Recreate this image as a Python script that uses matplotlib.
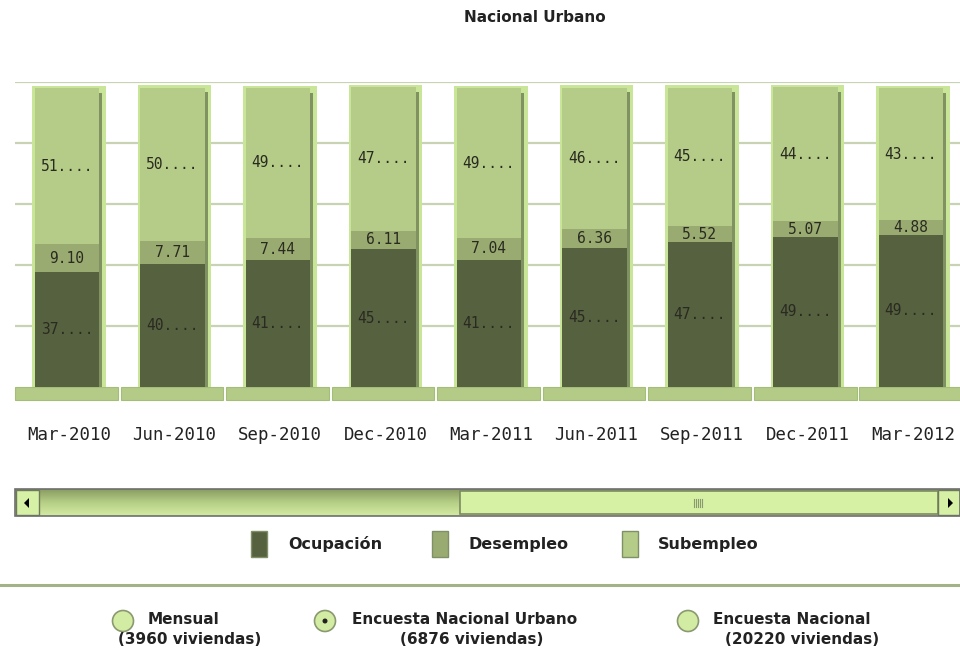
import numpy as np
import matplotlib.pyplot as plt
from matplotlib.patches import Rectangle, Circle, Polygon
from matplotlib.colors import LinearSegmentedColormap

# data
periodos = ['Mar-2010', 'Jun-2010', 'Sep-2010', 'Dec-2010', 'Mar-2011',
            'Jun-2011', 'Sep-2011', 'Dec-2011', 'Mar-2012']
ocupacion = [37.7, 40.3, 41.5, 45.2, 41.8, 45.5, 47.4, 49.2, 49.9]
desempleo = [9.10, 7.71, 7.44, 6.11, 7.04, 6.36, 5.52, 5.07, 4.88]
subempleo = [51.1, 50.1, 49.1, 47.0, 49.2, 46.2, 45.2, 44.0, 43.2]

series = ['Ocupación', 'Desempleo', 'Subempleo']
colores = ['#566140', '#9aab72', '#b4cc88']
radios = ['Mensual', 'Encuesta Nacional Urbano', 'Encuesta Nacional']
radios_sub = ['(3960 viviendas)', '(6876 viviendas)', '(20220 viviendas)']

W, H = 960, 650
fig = plt.figure(figsize=(9.6, 6.5), dpi=100)

# overlay in pixel coords for the widget parts
ui = fig.add_axes([0, 0, 1, 1], zorder=0)
ui.set_xlim(0, W)
ui.set_ylim(H, 0)
ui.axis('off')

ax = fig.add_axes([15 / W, (H - 387) / H, (W - 15) / W, 305 / H], zorder=2)
ax.patch.set_alpha(0)
ax.set_xlim(-0.512, 8.445)
ax.set_ylim(0, 100)
for s in ax.spines.values():
    s.set_visible(False)
ax.set_yticks([])
for g in [20, 40, 60, 80, 100]:
    ax.axhline(g, color='#c8d3b6', lw=1.6, zorder=0)

x = np.arange(len(periodos))
ocu = np.array(ocupacion)
des = np.array(desempleo)
sub = np.array(subempleo)
tot = ocu + des + sub

# base plates
ax.bar(x - 0.024, -4.3, width=0.976, bottom=0, color='#b3cb86',
       edgecolor='#a5bd7a', lw=0.8, clip_on=False, zorder=1)
# outer glow / border of each column
ax.bar(x, tot + 0.8, width=0.70, color='#c8e598', zorder=2)
inner_w = 0.61
xi = x - 0.02
ax.bar(xi, ocu, width=inner_w, color=colores[0], zorder=3)
ax.bar(xi, des, width=inner_w, bottom=ocu, color=colores[1], zorder=3)
ax.bar(xi, sub, width=inner_w, bottom=ocu + des, color=colores[2], zorder=3)
# shadow strip on right side
ax.bar(xi + inner_w / 2 + 0.015, tot - 1.5, width=0.03, color='#6f7d55',
       alpha=0.8, zorder=3)

mono = 'DejaVu Sans Mono'
for i in range(len(x)):
    ax.text(xi[i], ocu[i] / 2, '%d....' % int(ocu[i]), ha='center', va='center',
            family=mono, fontsize=10.5, color='#2a2a20', zorder=4)
    ax.text(xi[i], ocu[i] + des[i] / 2, '%.2f' % des[i], ha='center', va='center',
            family=mono, fontsize=10.5, color='#2a2a20', zorder=4)
    ax.text(xi[i], ocu[i] + des[i] + sub[i] * 0.5, '%d....' % int(sub[i]),
            ha='center', va='center', family=mono, fontsize=10.5,
            color='#2a2a20', zorder=4)

ax.set_xticks(x)
ax.set_xticklabels(periodos, family=mono, fontsize=12.5, color='#222222')
ax.tick_params(axis='x', length=0, pad=28)

fig.text(535 / W, 1 - 18 / H, 'Nacional Urbano', ha='center', va='center',
         fontsize=11, fontweight='bold', color='#222222')

# scrollbar
grad = np.linspace(0, 1, 50).reshape(-1, 1)
ui.imshow(grad, cmap=LinearSegmentedColormap.from_list(
    'g', ['#8a9c62', '#b6cf86', '#d3eaa2']), extent=(15, 960, 516, 489),
    aspect='auto', zorder=1)
ui.add_patch(Rectangle((15, 489), 945, 27, fill=False, ec='#6e6e6e', lw=1.2, zorder=3))
ui.add_patch(Rectangle((16, 490), 23, 25, fc='#d6f0a6', ec='#6e7a5a', lw=1, zorder=2))
ui.add_patch(Rectangle((460, 491), 478, 23, fc='#d6f0a4', ec='#7b8a62', lw=1.2, zorder=2))
ui.add_patch(Rectangle((938, 490), 22, 25, fc='#d6f0a6', ec='#6e7a5a', lw=1, zorder=2))
ui.add_patch(Polygon([(29, 498), (29, 508), (24, 503)], fc='black', zorder=4))
ui.add_patch(Polygon([(948, 498), (948, 508), (953, 503)], fc='black', zorder=4))
for k in range(5):
    ui.plot([694 + 2 * k, 694 + 2 * k], [499, 507], color='#8a9a70', lw=0.8, zorder=4)

# legend
leg_x = [251, 432, 622]
txt_x = [288, 468, 658]
for lx, tx, name, c in zip(leg_x, txt_x, series, colores):
    ui.add_patch(Rectangle((lx, 531), 16, 26, fc=c, ec='#7f8f66', lw=1, zorder=2))
    ui.text(tx, 544, name, ha='left', va='center', fontsize=11.5,
            fontweight='bold', color='#222222')

# separator
ui.plot([0, 960], [585, 585], color='#a2b387', lw=2.2)

# radio buttons
rad_cx = [123, 325, 688]
rad_tx = [148, 352, 713]
sub_cx = [190, 472, 802]
for i in range(3):
    ui.add_patch(Circle((rad_cx[i], 621), 10.5, fc='#d3eca3', ec='#8a9a70',
                        lw=1.2, zorder=2))
    if i == 1:
        ui.add_patch(Circle((rad_cx[i], 621), 2.5, fc='#222222', zorder=3))
    ui.text(rad_tx[i], 619, radios[i], ha='left', va='center', fontsize=11,
            fontweight='bold', color='#222222')
    ui.text(sub_cx[i], 640, radios_sub[i], ha='center', va='center',
            fontsize=11, fontweight='bold', color='#222222')

fig.savefig('out.png', dpi=100, facecolor='white')
